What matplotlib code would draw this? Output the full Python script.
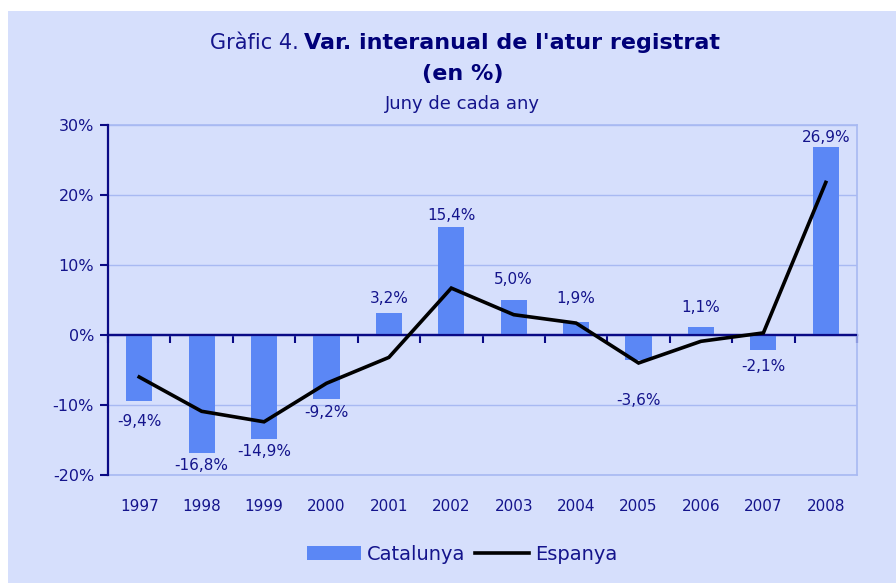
import matplotlib
matplotlib.use("Agg")
import matplotlib.pyplot as plt
from matplotlib.patches import Rectangle
import numpy as np

years = ["1997", "1998", "1999", "2000", "2001", "2002",
         "2003", "2004", "2005", "2006", "2007", "2008"]
catalunya = [-9.4, -16.8, -14.9, -9.2, 3.2, 15.4, 5.0, 1.9, -3.6, 1.1, -2.1, 26.9]
espanya = [-6.0, -10.9, -12.4, -6.9, -3.2, 6.7, 2.9, 1.7, -4.0, -0.9, 0.3, 21.8]
yticks = [-20, -10, 0, 10, 20, 30]

# label offsets (pixels, downward positive) relative to bar end
label_dy_px = [21, 13, 12, 13, -14, -12, -20, -23, 40, -20, 17, -9]

BG = "#D6DFFC"
BAR = "#5B87F5"
NAVY = "#0A0A85"
GRID = "#A8B9F2"
TXT = "#14148C"

plt.rcParams['font.family'] = ['DejaVu Sans']

W, H = 896, 583
fig = plt.figure(figsize=(W / 100, H / 100), dpi=100)
fig.patch.set_facecolor("white")
fig.patches.append(Rectangle((8 / W, 0), 1, (H - 11) / H, transform=fig.transFigure,
                             facecolor=BG, edgecolor="none", zorder=-10))

ax = fig.add_axes([108 / W, 1 - 475 / H, (857 - 108) / W, (475 - 125) / H])
ax.set_facecolor(BG)

x = np.arange(len(years))
bars = ax.bar(x, catalunya, width=0.42, color=BAR, zorder=2, label="Catalunya")
line, = ax.plot(x, espanya, color="black", lw=2.6, zorder=4, label="Espanya",
                solid_joinstyle="miter")

ax.set_xlim(-0.5, len(years) - 0.5)
ax.set_ylim(-20, 30)
ax.set_yticks(yticks)
ax.set_yticklabels([f"{v}%" for v in yticks])
ax.yaxis.grid(True, color=GRID, lw=1.0, zorder=0)
ax.set_axisbelow(True)

ax.set_xticks(x)
ax.set_xticklabels(years)
ax.tick_params(axis="x", length=0, pad=17, labelsize=11, labelcolor=TXT)
ax.tick_params(axis="y", length=6, width=1.5, color=NAVY, direction="out",
               labelsize=11.5, labelcolor=TXT, pad=4)

for s in ["top", "right", "bottom"]:
    ax.spines[s].set_color(GRID)
    ax.spines[s].set_linewidth(1.2)
ax.spines["left"].set_color(NAVY)
ax.spines["left"].set_linewidth(1.6)
ax.spines["left"].set_zorder(5)

# zero axis line drawn above the bars
ax.axhline(0, color=NAVY, lw=1.6, zorder=3)
# boundary ticks on the zero axis
sec = ax.secondary_xaxis(location=(0 - (-20)) / 50)
sec.set_xticks(np.arange(len(years) + 1) - 0.5)
sec.set_xticklabels([])
sec.tick_params(axis="x", length=6, width=1.5, color=NAVY, direction="out")
sec.spines["bottom"].set_color(NAVY)
sec.spines["bottom"].set_linewidth(1.6)

for xi, v, dy in zip(x, catalunya, label_dy_px):
    txt = f"{v:.1f}%".replace(".", ",")
    ax.annotate(txt, (xi, v), xytext=(0, -dy * 0.72), textcoords="offset points",
                ha="center", va="center", fontsize=11, color=TXT, zorder=6)

# Titles
fig.text(299 / W, 1 - 43 / H, "Gràfic 4.", ha="right", va="center",
         fontsize=15, color=TXT)
fig.text(304 / W, 1 - 43 / H, "Var. interanual de l'atur registrat", ha="left",
         va="center", fontsize=16, color="#000078", fontweight="bold")
fig.text(463 / W, 1 - 74 / H, "(en %)", ha="center", va="center",
         fontsize=16, color="#000078", fontweight="bold")
fig.text(462 / W, 1 - 104 / H, "Juny de cada any", ha="center", va="center",
         fontsize=13, color=TXT)

leg = fig.legend([bars, line], ["Catalunya", "Espanya"], loc="center",
                 bbox_to_anchor=(462 / W, 1 - 554 / H), ncol=2,
                 frameon=False, fontsize=14, handlelength=2.8, handleheight=0.7,
                 handletextpad=0.3, columnspacing=0.5, labelcolor=TXT)

fig.savefig("out.png", dpi=100, facecolor=fig.get_facecolor())
